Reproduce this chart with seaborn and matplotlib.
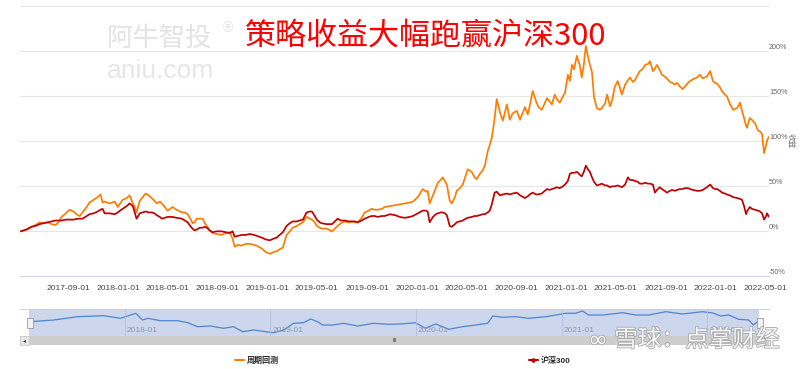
import pandas as pd
import matplotlib
matplotlib.use('Agg')
import matplotlib.pyplot as plt
import matplotlib.patheffects as pe
from matplotlib.lines import Line2D
from matplotlib.patches import Rectangle
import seaborn as sns

# ====================
# data (weekly-ish samples, % return since start)
# ====================
dates = [
    '2017-05-07', '2017-05-21', '2017-06-02', '2017-06-12', '2017-06-22', '2017-07-02', '2017-07-12', '2017-07-21',
    '2017-07-31', '2017-08-05', '2017-08-15', '2017-08-25', '2017-09-03', '2017-09-13', '2017-09-23', '2017-09-28',
    '2017-10-05', '2017-10-15', '2017-10-22', '2017-11-01', '2017-11-11', '2017-11-18', '2017-11-23', '2017-11-28',
    '2017-12-10', '2017-12-23', '2017-12-30', '2018-01-11', '2018-01-21', '2018-01-28', '2018-02-05', '2018-02-09',
    '2018-02-14', '2018-02-22', '2018-03-01', '2018-03-08', '2018-03-16', '2018-03-23', '2018-03-30', '2018-04-04',
    '2018-04-12', '2018-04-17', '2018-04-24', '2018-05-01', '2018-05-13', '2018-05-23', '2018-06-05', '2018-06-12',
    '2018-06-19', '2018-06-27', '2018-07-01', '2018-07-06', '2018-07-11', '2018-07-19', '2018-07-26', '2018-07-31',
    '2018-08-05', '2018-08-12', '2018-08-19', '2018-08-29', '2018-09-10', '2018-09-20', '2018-09-30', '2018-10-07',
    '2018-10-12', '2018-10-20', '2018-10-29', '2018-11-08', '2018-11-18', '2018-11-28', '2018-12-05', '2018-12-17',
    '2018-12-27', '2019-01-06', '2019-01-16', '2019-01-23', '2019-01-30', '2019-02-07', '2019-02-16', '2019-02-24',
    '2019-03-03', '2019-03-13', '2019-03-20', '2019-03-28', '2019-04-06', '2019-04-14', '2019-04-19', '2019-04-26',
    '2019-05-01', '2019-05-08', '2019-05-13', '2019-05-25', '2019-06-07', '2019-06-14', '2019-06-21', '2019-06-29',
    '2019-07-08', '2019-07-18', '2019-07-26', '2019-08-02', '2019-08-09', '2019-08-19', '2019-08-26', '2019-09-05',
    '2019-09-12', '2019-09-20', '2019-09-27', '2019-10-07', '2019-10-14', '2019-10-27', '2019-11-08', '2019-11-20',
    '2019-12-02', '2019-12-14', '2019-12-22', '2020-01-03', '2020-01-15', '2020-01-23', '2020-01-27', '2020-02-01',
    '2020-02-09', '2020-02-16', '2020-02-21', '2020-02-28', '2020-03-04', '2020-03-09', '2020-03-14', '2020-03-21',
    '2020-03-26', '2020-04-03', '2020-04-07', '2020-04-15', '2020-04-22', '2020-04-29', '2020-05-04', '2020-05-14',
    '2020-05-21', '2020-05-26', '2020-06-03', '2020-06-10', '2020-06-15', '2020-06-22', '2020-06-27', '2020-07-02',
    '2020-07-09', '2020-07-14', '2020-07-22', '2020-07-29', '2020-08-08', '2020-08-15', '2020-08-22', '2020-09-01',
    '2020-09-09', '2020-09-21', '2020-09-28', '2020-10-03', '2020-10-10', '2020-10-18', '2020-10-23', '2020-11-01',
    '2020-11-09', '2020-11-14', '2020-11-21', '2020-11-26', '2020-12-03', '2020-12-08', '2020-12-15', '2020-12-23',
    '2020-12-28', '2021-01-04', '2021-01-09', '2021-01-14', '2021-01-19', '2021-01-26', '2021-01-29', '2021-02-02',
    '2021-02-07', '2021-02-12', '2021-02-17', '2021-02-22', '2021-02-27', '2021-03-04', '2021-03-09', '2021-03-16',
    '2021-03-23', '2021-03-28', '2021-04-05', '2021-04-10', '2021-04-17', '2021-04-22', '2021-04-29', '2021-05-06',
    '2021-05-11', '2021-05-16', '2021-05-24', '2021-05-31', '2021-06-05', '2021-06-12', '2021-06-17', '2021-06-24',
    '2021-06-29', '2021-07-07', '2021-07-12', '2021-07-19', '2021-07-24', '2021-07-31', '2021-08-05', '2021-08-10',
    '2021-08-17', '2021-08-22', '2021-08-29', '2021-09-03', '2021-09-11', '2021-09-16', '2021-09-23', '2021-09-28',
    '2021-10-05', '2021-10-12', '2021-10-17', '2021-10-25', '2021-10-30', '2021-11-06', '2021-11-16', '2021-11-23',
    '2021-11-30', '2021-12-10', '2021-12-18', '2021-12-25', '2021-12-30', '2022-01-04', '2022-01-11', '2022-01-16',
    '2022-01-23', '2022-01-28', '2022-02-04', '2022-02-12', '2022-02-22', '2022-03-01', '2022-03-06', '2022-03-11',
    '2022-03-16', '2022-03-18', '2022-03-25', '2022-03-30', '2022-04-07', '2022-04-14', '2022-04-19', '2022-04-24',
    '2022-04-29', '2022-05-04', '2022-05-06', '2022-05-11',
]

backtest = [
    0, 2, 5, 7, 10, 9, 10, 8, 7, 9, 16, 20, 24, 22, 18, 17,
    21, 27, 32, 35, 38, 41, 32, 33, 31, 33, 27, 35, 37, 40, 31, 28,
    21, 34, 38, 42, 40, 37, 34, 31, 33, 31, 27, 23, 27, 24, 21, 21,
    19, 13, 9, 10, 14, 14, 14, 9, 6, 1, -2, -3, -4, -2, -1, -8,
    -17, -15, -16, -14, -14, -15, -16, -19, -23, -25, -23, -22, -20, -18, -4, 0,
    4, 6, 8, 10, 16, 14, 13, 10, 6, 4, 3, 3, 0, 3, 6, 9,
    11, 10, 11, 10, 10, 15, 21, 23, 25, 24, 24, 25, 27, 28, 29, 30,
    31, 32, 33, 38, 47, 44, 45, 31, 40, 48, 54, 57, 60, 56, 52, 34,
    31, 38, 45, 48, 52, 62, 69, 66, 60, 58, 64, 68, 73, 89, 96, 104,
    126, 147, 132, 123, 141, 124, 131, 134, 124, 138, 130, 140, 156, 145, 139, 135,
    143, 148, 144, 141, 152, 147, 143, 150, 154, 174, 167, 185, 180, 195, 190, 185,
    171, 185, 206, 195, 185, 177, 149, 137, 135, 137, 142, 152, 139, 145, 161, 167,
    160, 152, 163, 168, 171, 166, 168, 174, 178, 181, 185, 186, 189, 178, 181, 185,
    179, 174, 172, 170, 166, 165, 163, 165, 161, 158, 161, 165, 167, 169, 171, 174,
    170, 172, 178, 167, 165, 164, 160, 156, 152, 150, 142, 135, 137, 143, 134, 126,
    117, 115, 126, 124, 120, 112, 111, 108, 87, 96, 101, 105,
]

hs300 = [
    0, 2, 5, 6, 8, 9, 10, 11, 12, 12, 12, 13, 13, 13, 14, 14,
    14, 17, 19, 20, 22, 24, 25, 20, 20, 19, 21, 25, 28, 31, 28, 22,
    14, 20, 21, 22, 21, 21, 20, 18, 16, 14, 15, 16, 16, 15, 14, 12,
    10, 5, 3, 1, 2, 4, 4, 5, 4, 1, -1, 0, 0, -1, -2, 0,
    -6, -5, -4, -4, -3, -4, -5, -7, -9, -10, -8, -7, -4, -1, 6, 9,
    11, 11, 12, 13, 21, 22, 22, 17, 13, 10, 9, 8, 8, 11, 14, 12,
    12, 11, 11, 11, 10, 12, 14, 16, 17, 17, 16, 17, 17, 19, 18, 16,
    15, 16, 17, 20, 23, 23, 22, 10, 16, 19, 20, 21, 21, 20, 18, 6,
    5, 8, 10, 11, 12, 14, 15, 16, 17, 17, 18, 19, 19, 21, 23, 30,
    43, 44, 40, 41, 42, 41, 42, 43, 40, 37, 39, 41, 43, 41, 41, 42,
    45, 47, 46, 47, 48, 49, 48, 50, 52, 56, 64, 65, 65, 66, 65, 63,
    61, 66, 73, 69, 66, 60, 55, 51, 52, 53, 51, 51, 49, 50, 50, 51,
    50, 49, 52, 60, 57, 57, 56, 55, 53, 53, 54, 53, 53, 52, 43, 46,
    49, 47, 45, 43, 45, 46, 45, 46, 47, 47, 48, 48, 47, 46, 45, 45,
    46, 49, 52, 48, 47, 47, 45, 43, 42, 41, 40, 38, 37, 36, 35, 28,
    19, 22, 27, 25, 24, 23, 22, 20, 13, 17, 20, 16,
]

# overview strip under the chart (its own scale, read in pixels above the strip floor)
nav_dates = [
    '2017-05-07', '2017-07-06', '2017-09-04', '2017-11-08', '2017-12-21', '2018-01-28', '2018-02-14', '2018-02-27',
    '2018-03-31', '2018-05-13', '2018-06-07', '2018-07-02', '2018-08-04', '2018-09-05', '2018-09-30', '2018-10-23',
    '2018-11-20', '2018-12-25', '2019-01-09', '2019-02-03', '2019-02-28', '2019-03-25', '2019-04-12', '2019-04-29',
    '2019-05-12', '2019-06-08', '2019-07-03', '2019-08-08', '2019-09-17', '2019-10-22', '2019-11-24', '2019-12-31',
    '2020-01-25', '2020-02-19', '2020-03-08', '2020-03-23', '2020-04-27', '2020-05-30', '2020-06-29', '2020-07-12',
    '2020-08-06', '2020-09-07', '2020-10-10', '2020-11-22', '2021-01-11', '2021-02-05', '2021-02-22', '2021-03-09',
    '2021-04-14', '2021-06-03', '2021-07-05', '2021-08-07', '2021-09-19', '2021-10-31', '2021-12-20', '2022-01-15',
    '2022-02-04', '2022-02-24', '2022-03-21', '2022-04-15', '2022-04-27', '2022-05-11',
]
nav_values = [
    14.3, 16, 19.3, 20.3, 17.7, 22.7, 16, 17.7, 15.3, 15.3, 13.3, 9.3, 10, 7.7, 9.3, 4.3,
    6, 4, 3.3, 6, 12.7, 13.3, 17, 14.3, 11, 11, 12.7, 10, 12.7, 11.7, 12, 13.3,
    7.7, 12, 9.3, 6.7, 9.3, 11, 12.7, 20, 18.7, 19.3, 17.7, 19.3, 22.7, 22.7, 25, 21,
    21, 23.3, 21, 21, 24.3, 22, 24.3, 23, 20, 21, 16.7, 16, 11, 15.3,
]

tick_dates = ['2017-09-01', '2018-01-01', '2018-05-01', '2018-09-01', '2019-01-01', '2019-05-01', '2019-09-01',
              '2020-01-01', '2020-05-01', '2020-09-01', '2021-01-01', '2021-05-01', '2021-09-01', '2022-01-01',
              '2022-05-01']
y_ticks = [-50, 0, 50, 100, 150, 200, 250]
y_labels = ['-50%', '0%', '50%', '100%', '150%', '200%', '']
nav_years = ['2018-01', '2019-01', '2020-01', '2021-01', '2022-01']

series_names = ['周期回测', '沪深300']
ORANGE = '#ff7c00'
RED = '#c00000'

# ====================
# style
# ====================
sns.set_style('white')
plt.rcParams['font.family'] = ['Liberation Sans', 'Noto Sans CJK SC', 'DejaVu Sans']
CJK = ['Noto Sans CJK SC', 'DejaVu Sans']

W, H = 800, 369


def box(x0, y0, x1, y1):
    # pixel box -> figure fraction rect
    return [x0 / W, 1 - y1 / H, (x1 - x0) / W, (y1 - y0) / H]


def fig_rect(x0, y0, x1, y1, **kw):
    fig.patches.append(Rectangle((x0 / W, 1 - y1 / H), (x1 - x0) / W, (y1 - y0) / H,
                                 transform=fig.transFigure, **kw))


df = pd.DataFrame({'date': pd.to_datetime(dates), series_names[0]: backtest, series_names[1]: hs300})
nav_df = pd.DataFrame({'date': pd.to_datetime(nav_dates), 'level': nav_values})
x_start, x_end = pd.Timestamp('2017-05-05'), pd.Timestamp('2022-05-11')

fig = plt.figure(figsize=(8, 3.69), dpi=100)

# ====================
# main chart
# ====================
ax = fig.add_axes(box(20, 5.5, 769, 276.3))
sns.lineplot(data=df, x='date', y=series_names[0], ax=ax, color=ORANGE, lw=1.25, legend=False)
sns.lineplot(data=df, x='date', y=series_names[1], ax=ax, color=RED, lw=1.25, legend=False)
ax.set_xlim(x_start, x_end)
ax.set_ylim(-50, 251)
ax.set_xlabel('')
ax.set_ylabel('')

ax.set_yticks(y_ticks, y_labels, va='bottom')
ax.yaxis.tick_right()
ax.tick_params(axis='y', length=0, pad=0, labelsize=5.2, labelcolor='#666666')
ax.set_xticks(pd.to_datetime(tick_dates), tick_dates)
ax.tick_params(axis='x', length=4.5, width=0.7, color='#ccd6eb', labelsize=6.1, labelcolor='#444444', pad=1.5)

ax.grid(axis='y', color='#e6e6e6', lw=0.8)
ax.grid(axis='x', visible=False)
for side in ['top', 'left', 'right']:
    ax.spines[side].set_visible(False)
ax.spines['bottom'].set_color('#ccd6eb')
ax.spines['bottom'].set_linewidth(0.8)

fig.text(791 / W, 1 - 141 / H, '收益', rotation=-90, fontsize=5.5, color='#777777',
         ha='center', va='center', family=CJK)

# watermarks + title
fig.text(160 / W, 1 - 38 / H, '阿牛智投', fontsize=19, color='#e3e3e3', ha='center', va='center', family=CJK)
fig.text(228 / W, 1 - 28 / H, '®', fontsize=10, color='#e3e3e3', ha='center', va='center')
fig.text(160 / W, 1 - 71 / H, 'aniu.com', fontsize=19, color='#e6e6e6', ha='center', va='center')
fig.text(426 / W, 1 - 36 / H, '策略收益大幅跑赢沪深300', fontsize=22.3, color='#ff0000',
         ha='center', va='center', family=CJK)

# ====================
# navigator strip + scrollbar
# ====================
fig.lines.append(Line2D([20 / W, 769 / W], [1 - 309 / H, 1 - 309 / H], transform=fig.transFigure,
                        color='#cccccc', lw=0.6))
fig_rect(20, 336, 769, 345, facecolor='#cdcdcd', edgecolor='none')
fig_rect(20, 336, 29, 345, facecolor='#e6e6e6', edgecolor='#cccccc', lw=0.5)
fig.text(24.5 / W, 1 - 341 / H, '◂', fontsize=4, color='#333333', ha='center', va='center', family=['DejaVu Sans'])
fig.text(395 / W, 1 - 341 / H, 'III', fontsize=4, color='#333333', ha='center', va='center')

nav = fig.add_axes(box(29, 309, 759, 336))
nav.set_facecolor('#ccd6ed')
sns.lineplot(data=nav_df, x='date', y='level', ax=nav, color='#4f86cf', lw=0.9, legend=False)
nav.set_xlim(x_start, x_end)
nav.set_ylim(0, 27)
for yr in nav_years:
    d = pd.Timestamp(yr + '-01')
    nav.axvline(d, color='#b2bfdc', lw=0.6)
    nav.text(d + pd.Timedelta(days=5), 5, yr, fontsize=6, color='#9098aa', va='center', ha='left')
nav.set_xticks([])
nav.set_yticks([])
nav.set_xlabel('')
nav.set_ylabel('')
for s in nav.spines.values():
    s.set_visible(False)

for hx in (26.5, 756.5):
    fig_rect(hx, 317.5, hx + 6, 327.5, facecolor='#f2f2f2', edgecolor='#999999', lw=0.6, zorder=5)

# bottom-right watermark
fig.text(697 / W, 1 - 340 / H, '雪球：点掌财经', fontsize=17, color='#f6f6f6', ha='center', va='center',
         family=CJK, path_effects=[pe.withStroke(linewidth=1.2, foreground='#a9a9a9')], zorder=10)
fig.text(598 / W, 1 - 340 / H, '∞', fontsize=17, color='#f6f6f6', ha='center', va='center',
         family=['DejaVu Sans'], path_effects=[pe.withStroke(linewidth=1.2, foreground='#a9a9a9')], zorder=10)

# legend
handles = [Line2D([], [], color=ORANGE, lw=1.5),
           Line2D([], [], color=RED, lw=1.5, marker='o', ms=2.2)]
fig.legend(handles, series_names, loc='center', bbox_to_anchor=(403 / W, 1 - 360.5 / H), ncol=2,
           frameon=False, prop={'size': 5.8, 'weight': 'bold'}, handlelength=1.1, handletextpad=0.4,
           columnspacing=31)

fig.savefig('out.png', dpi=100, facecolor='white')
